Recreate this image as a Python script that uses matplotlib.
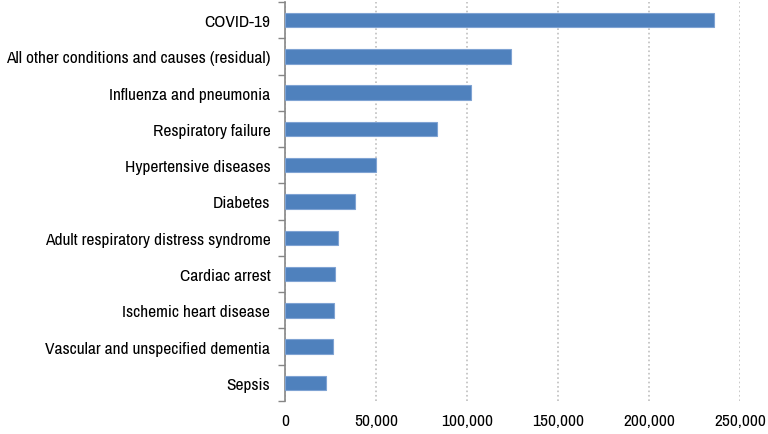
import numpy as np
import matplotlib.pyplot as plt
from matplotlib.ticker import FuncFormatter, FixedLocator

# Conditions contributing to COVID-19 deaths
causes = ['COVID-19',
          'All other conditions and causes (residual)',
          'Influenza and pneumonia',
          'Respiratory failure',
          'Hypertensive diseases',
          'Diabetes',
          'Adult respiratory distress syndrome',
          'Cardiac arrest',
          'Ischemic heart disease',
          'Vascular and unspecified dementia',
          'Sepsis']
deaths = [236000, 124000, 102400, 83700, 50100, 38600,
          29200, 27600, 26900, 26400, 22300]
x_ticks = [0, 50000, 100000, 150000, 200000, 250000]

plt.rcParams['font.family'] = ['Archivo Narrow', 'Roboto Condensed', 'DejaVu Sans']

fig = plt.figure(figsize=(7.68, 4.35), dpi=100)
ax = fig.add_axes([0.371, 0.076, 0.5925, 0.917])

pos = np.arange(len(causes))
ax.barh(pos, deaths, height=0.4, color='#4F81BD', edgecolor='#7FA3D3',
        linewidth=0.8, zorder=3)

ax.set_ylim(len(causes) - 0.5, -0.5)
ax.set_xlim(0, 250000)

ax.set_yticks(pos)
ax.set_yticklabels(causes, fontsize=12.5)
ax.yaxis.set_minor_locator(FixedLocator(np.arange(-0.5, len(causes), 1)))
ax.tick_params(axis='y', which='major', length=0, pad=10.5)
ax.tick_params(axis='y', which='minor', length=5, color='#868686', width=1)

ax.set_xticks(x_ticks)
ax.xaxis.set_major_formatter(FuncFormatter(lambda v, p: f'{int(v):,}'))
ax.tick_params(axis='x', length=0, labelsize=12.5, pad=9)

ax.grid(axis='x', linestyle=':', color='#BFBFBF', linewidth=1.2, zorder=0)

for s in ['top', 'right', 'bottom']:
    ax.spines[s].set_visible(False)
ax.spines['left'].set_color('#868686')
ax.spines['left'].set_linewidth(1.2)

for lbl in ax.get_xticklabels() + ax.get_yticklabels():
    lbl.set_color('#000000')

fig.savefig('out.png', dpi=100)
